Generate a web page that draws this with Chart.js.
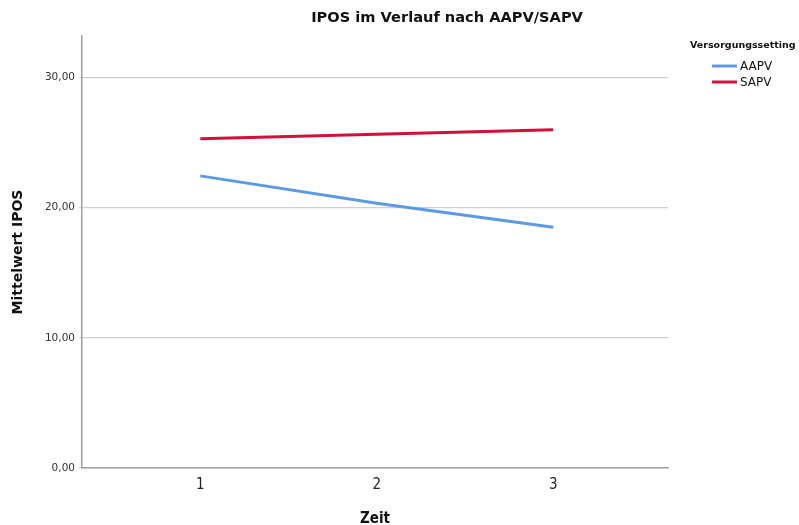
<!DOCTYPE html>
<html>
<head>
<meta charset="utf-8">
<script src="https://cdn.jsdelivr.net/npm/chart.js@4"></script>
<style>
  body { margin: 0; background: #fff; }
  #wrap { width: 799px; height: 525px; position: relative; }
</style>
</head>
<body>
<div id="wrap"><canvas id="iposChart"></canvas></div>
<script>
// data
const zeit = [1, 2, 3];
const aapv = [22.45, 20.35, 18.5];
const sapv = [25.3, 25.65, 26.0];
const yTicks = [0, 10, 20, 30];
const chartTitle = 'IPOS im Verlauf nach AAPV/SAPV';
const legendTitle = 'Versorgungssetting';

// title + legend drawn by hand (SPSS puts them off-centre)
const spssDecor = {
  id: 'spssDecor',
  afterDraw(chart) {
    const ctx = chart.ctx;
    ctx.save();
    ctx.fillStyle = '#111';
    ctx.textBaseline = 'middle';
    ctx.textAlign = 'center';
    ctx.font = 'bold 14.6px "DejaVu Sans"';
    ctx.fillText(chartTitle, 447, 18);

    ctx.textAlign = 'left';
    ctx.font = 'bold 9.5px "DejaVu Sans"';
    ctx.fillText(legendTitle, 690, 46);

    ctx.font = '12px "DejaVu Sans"';
    chart.data.datasets.forEach((ds, i) => {
      const y = 66 + i * 16;
      ctx.strokeStyle = ds.borderColor;
      ctx.lineWidth = 3;
      ctx.beginPath();
      ctx.moveTo(712, y);
      ctx.lineTo(737, y);
      ctx.stroke();
      ctx.fillText(ds.label, 740, y + 1);
    });
    ctx.restore();
  }
};

const ctx = document.getElementById('iposChart');
new Chart(ctx, {
  type: 'line',
  data: {
    datasets: [
      {
        label: 'AAPV',
        data: zeit.map((z, i) => ({ x: z, y: aapv[i] })),
        borderColor: '#5b9be6',
        borderWidth: 3,
        pointRadius: 0,
        fill: false,
        tension: 0
      },
      {
        label: 'SAPV',
        data: zeit.map((z, i) => ({ x: z, y: sapv[i] })),
        borderColor: '#d2103c',
        borderWidth: 3,
        pointRadius: 0,
        fill: false,
        tension: 0
      }
    ]
  },
  options: {
    responsive: true,
    maintainAspectRatio: false,
    animation: false,
    layout: { padding: { top: 36, right: 131, left: 0, bottom: 0 } },
    plugins: {
      legend: { display: false },
      title: { display: false },
      tooltip: { enabled: false }
    },
    scales: {
      x: {
        type: 'linear',
        min: 0.33,
        max: 3.65,
        afterBuildTicks: (axis) => { axis.ticks = zeit.map(v => ({ value: v })); },
        afterFit: (axis) => { axis.height = 57; },
        grid: { display: false, drawTicks: false },
        border: { display: true, color: '#a0a0a0', width: 1.5 },
        ticks: {
          padding: 8,
          color: '#222',
          font: { family: '"DejaVu Sans Condensed"', size: 15 }
        },
        title: {
          display: true,
          text: 'Zeit',
          color: '#111',
          padding: { top: 14, bottom: -3 },
          font: { family: '"DejaVu Sans Condensed"', weight: 'bold', size: 15 }
        }
      },
      y: {
        min: 0,
        max: 33.2,
        afterBuildTicks: (axis) => { axis.ticks = yTicks.map(v => ({ value: v })); },
        afterFit: (axis) => { axis.width = 82; },
        grid: { color: '#cfcfcf', lineWidth: 1.2, tickLength: 3 },
        border: { display: true, color: '#a0a0a0', width: 1.5 },
        ticks: {
          padding: 4,
          color: '#333',
          font: { family: '"DejaVu Sans"', size: 10.5 },
          callback: (v) => v.toFixed(2).replace('.', ',')
        },
        title: {
          display: true,
          text: 'Mittelwert IPOS',
          color: '#111',
          padding: { top: 10, bottom: 0 },
          font: { family: '"DejaVu Sans"', weight: 'bold', size: 14 }
        }
      }
    }
  },
  plugins: [spssDecor]
});
</script>
</body>
</html>
